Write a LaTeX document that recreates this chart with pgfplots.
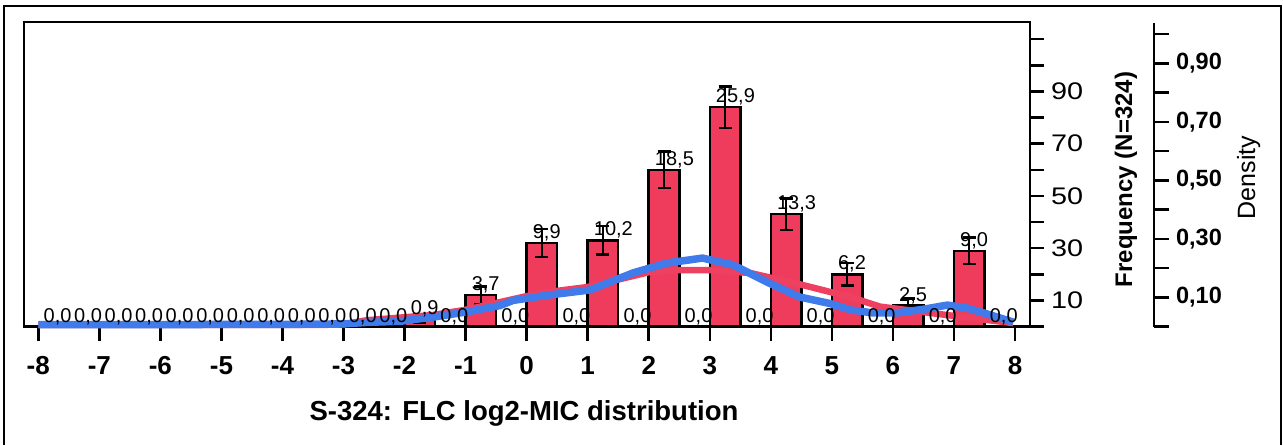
\documentclass[border=0pt]{standalone}
\usepackage{fontspec}
\setmainfont{Liberation Sans}
\newfontfamily\widefont{Liberation Sans}[FakeStretch=1.2]
\usepackage{pgfplots}
\usepackage{pgfplotstable}
\pgfplotsset{compat=1.18}
\definecolor{barred}{RGB}{240,60,92}
\definecolor{linered}{RGB}{238,64,96}
\definecolor{lineblue}{RGB}{63,123,234}

\pgfplotstableread{
x     y   e    lab
-1.75 3   1.7  0,9
-0.75 12  3.4  3,7
0.25  32  5.4  9,9
1.25  33  5.4  10,2
2.25  60  7.0  18,5
3.25  84  7.9  25,9
4.25  43  6.1  13,3
5.25  20  4.3  6,2
6.25  8   2.8  2,5
7.25  29  5.1  9,0
}\bars

\pgfplotstableread{
x     y  lab
-7.75 0  0,0
-7.25 0  0,0
-6.75 0  0,0
-6.25 0  0,0
-5.75 0  0,0
-5.25 0  0,0
-4.75 0  0,0
-4.25 0  0,0
-3.75 0  0,0
-3.25 0  0,0
-2.75 0  0,0
-2.25 0  0,0
-1.25 0  0,0
-0.25 0  0,0
0.75  0  0,0
1.75  0  0,0
2.75  0  0,0
3.75  0  0,0
4.75  0  0,0
5.75  0  0,0
6.75  0  0,0
7.75  0  0,0
}\zeros

\begin{document}
\begin{tikzpicture}
\path[use as bounding box] (0pt,0pt) rectangle (641.5pt,222.5pt);
\draw[line width=1pt] (2pt,0pt) -- (2pt,219.5pt) -- (640.5pt,219.5pt) -- (640.5pt,0pt);
\begin{axis}[
  at={(12pt,59.25pt)}, anchor=south west,
  scale only axis, width=503pt, height=152.25pt,
  xmin=-8.234, xmax=8.246, ymin=0, ymax=116.6,
  axis line style={line width=1.25pt},
  tick style={line width=1.25pt, black},
  major tick length=7pt, minor tick length=7pt,
  tick align=outside,
  xtick={-8,-7,-6,-5,-4,-3,-2,-1,0,1,2,3,4,5,6,7,8},
  xticklabels={-8,-7,-6,-5,-4,-3,-2,-1,0,1,2,3,4,5,6,7,8},
  xtick pos=bottom,
  ytick={10,30,50,70,90}, yticklabels={10,30,50,70,90},
  minor ytick={0,20,40,60,80,100,110},
  ytick pos=right, yticklabel pos=right,
  xticklabel style={font=\bfseries\fontsize{13}{13}\selectfont, yshift=-4.5pt},
  yticklabel style={font=\widefont\fontsize{12}{12}\selectfont},
  clip=false,
]
\addplot[ybar, bar width=0.5, fill=barred, draw=black, line width=1.25pt,
  nodes near coords, point meta=explicit symbolic,
  every node near coord/.append style={anchor=base west, inner sep=0pt, xshift=-5.15pt, yshift=2.25pt, font=\fontsize{10}{10}\selectfont, black},
  error bars/.cd, y dir=both, y explicit,
  error bar style={line width=1.25pt, black},
  error mark options={rotate=90, mark size=3.25pt, line width=1.25pt, black}]
  table[x=x, y=y, y error=e, meta=lab] {\bars};
\addplot[draw=none, nodes near coords, point meta=explicit symbolic,
  every node near coord/.append style={anchor=base west, inner sep=0pt, xshift=-5.15pt, yshift=2.25pt, font=\fontsize{10}{10}\selectfont, black}]
  table[x=x, y=y, meta=lab] {\zeros};
\addplot[linered, line width=3.25pt, line join=round] coordinates {
(-8,0.6) (-3.4,0.6) (-3.0,0.8) (-2.62,2.4) (-1.53,4.4) (-1.0,6.4) (-0.5,9.0)
(0.22,12.8) (0.99,15.1) (2.02,20.9) (2.51,21.6) (3.0,21.6) (3.66,20.5)
(4.5,16.0) (5.3,11.3) (5.79,7.6) (6.61,5.2) (7.15,3.6) (7.97,1.3)};
\addplot[lineblue, line width=3.75pt, line join=round] coordinates {
(-8,0.7) (-4,0.8) (-3,1.0) (-2.6,1.6) (-2.07,2.0) (-1.53,3.6) (-0.98,5.6)
(-0.44,8.0) (-0.22,10.0) (0.38,12.1) (1.04,14.0) (1.74,20.5) (2.30,24.3)
(2.88,26.2) (3.38,23.6) (3.94,17.0) (4.47,11.3) (4.97,8.8) (5.30,6.4)
(5.67,5.2) (6.07,5.2) (6.5,6.6) (6.89,8.2) (7.21,7.1) (7.6,4.4) (7.97,1.7)};
\end{axis}
\begin{axis}[
  at={(577pt,59.15pt)}, anchor=south east,
  scale only axis, width=10pt, height=151.85pt,
  xmin=0, xmax=1, ymin=0, ymax=1.0376,
  axis x line=none, axis y line=right,
  axis line style={-, line width=1.25pt},
  tick style={line width=1.25pt, black},
  major tick length=7.5pt, minor tick length=7.5pt,
  tick align=outside,
  ytick={0.1,0.3,0.5,0.7,0.9},
  yticklabels={{0,10},{0,30},{0,50},{0,70},{0,90}},
  minor ytick={0,0.2,0.4,0.6,0.8,1.0},
  yticklabel style={font=\bfseries\fontsize{11.75}{11.75}\selectfont},
]
\end{axis}
\node[font=\bfseries\fontsize{13.75}{15}\selectfont, anchor=base] at (262pt,12.5pt) {S-324: FLC log2-MIC distribution};
\node[font=\bfseries\fontsize{12}{12}\selectfont, rotate=90, anchor=base] at (566pt,132.75pt) {Frequency (N=324)};
\node[font=\fontsize{12.5}{12.5}\selectfont, rotate=90, anchor=base] at (627.5pt,133.75pt) {Density};
\end{tikzpicture}
\end{document}
